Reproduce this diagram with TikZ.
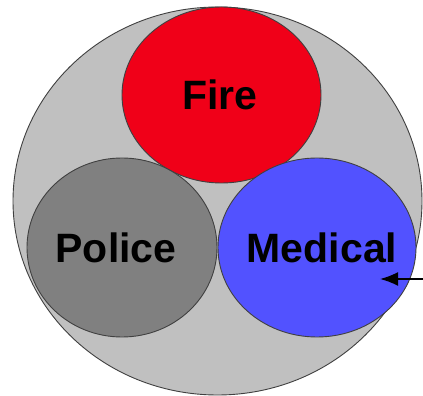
\documentclass[tikz,border=0pt]{standalone}
\usepackage{fontspec}
\setmainfont{Liberation Sans}
\usetikzlibrary{arrows.meta}
\definecolor{outergray}{RGB}{192,192,192}
\definecolor{firered}{RGB}{240,0,24}
\definecolor{policegray}{RGB}{128,128,128}
\definecolor{medblue}{RGB}{82,82,255}
\begin{document}
\begin{tikzpicture}[x=1pt,y=1pt,
  ring/.style={draw=black!75,line width=0.9pt},
  lbl/.style={font=\fontsize{41}{41}\selectfont\bfseries,text=black}]
\useasboundingbox (0,0) rectangle (423,396);
\filldraw[fill=outergray,ring] (217.5,195) ellipse [x radius=204.5,y radius=194];
\filldraw[fill=firered,ring] (221.5,301) ellipse [x radius=99.5,y radius=88];
\filldraw[fill=policegray,ring] (122,148.5) ellipse [x radius=95,y radius=89.5];
\filldraw[fill=medblue,ring] (317,148.5) ellipse [x radius=99,y radius=89.5];
\node[lbl] (fire) at (220,301) {Fire};
\node[lbl] (police) at (116,148.5) {Police};
\node[lbl] (medical) at (322,148.5) {Medical};
\coordinate (tip) at (380,117);
\coordinate (tail) at (423,117);
\draw[line width=1.8pt,-{Latex[length=18pt,width=14pt]}] (tail) -- (tip);
\end{tikzpicture}
\end{document}
